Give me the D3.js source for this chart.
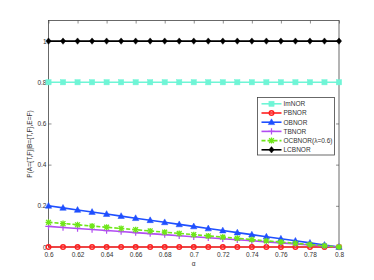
<!DOCTYPE html>
<html>
<head>
<meta charset="utf-8">
<script src="https://cdn.jsdelivr.net/npm/d3@7"></script>
<style>
  body { margin: 0; background: #fff; }
  svg { display: block; font-family: "Liberation Sans", Arial, sans-serif; }
</style>
</head>
<body>
<svg width="374" height="280"></svg>
<script>
(function(d3) {
    "use strict";

    // alpha values
    var alpha = [0.60, 0.61, 0.62, 0.63, 0.64, 0.65, 0.66, 0.67, 0.68, 0.69, 0.70,
                 0.71, 0.72, 0.73, 0.74, 0.75, 0.76, 0.77, 0.78, 0.79, 0.80];

    var imnor = [0.8, 0.8, 0.8, 0.8, 0.8, 0.8, 0.8, 0.8, 0.8, 0.8, 0.8,
                 0.8, 0.8, 0.8, 0.8, 0.8, 0.8, 0.8, 0.8, 0.8, 0.8];
    var pbnor = [0, 0, 0, 0, 0, 0, 0, 0, 0, 0, 0,
                 0, 0, 0, 0, 0, 0, 0, 0, 0, 0];
    var obnor = [0.20, 0.19, 0.18, 0.17, 0.16, 0.15, 0.14, 0.13, 0.12, 0.11, 0.10,
                 0.09, 0.08, 0.07, 0.06, 0.05, 0.04, 0.03, 0.02, 0.01, 0];
    var tbnor = [0.100, 0.095, 0.090, 0.085, 0.080, 0.075, 0.070, 0.065, 0.060, 0.055, 0.050,
                 0.045, 0.040, 0.035, 0.030, 0.025, 0.020, 0.015, 0.010, 0.005, 0];
    var ocbnor = [0.120, 0.114, 0.108, 0.102, 0.096, 0.090, 0.084, 0.078, 0.072, 0.066, 0.060,
                  0.054, 0.048, 0.042, 0.036, 0.030, 0.024, 0.018, 0.012, 0.006, 0];
    var lcbnor = [1, 1, 1, 1, 1, 1, 1, 1, 1, 1, 1,
                  1, 1, 1, 1, 1, 1, 1, 1, 1, 1];

    var xTicks = [0.6, 0.62, 0.64, 0.66, 0.68, 0.7, 0.72, 0.74, 0.76, 0.78, 0.8];
    var xTickLabels = ["0.6", "0.62", "0.64", "0.66", "0.68", "0.7", "0.72", "0.74", "0.76", "0.78", "0.8"];
    var yTicks = [0, 0.2, 0.4, 0.6, 0.8, 1];
    var yTickLabels = ["0", "0.2", "0.4", "0.6", "0.8", "1"];

    var series = [
        {name: "ImNOR", values: imnor, color: "#6ff5d6", marker: "square", dash: null},
        {name: "PBNOR", values: pbnor, color: "#ff2020", marker: "circle", dash: null},
        {name: "OBNOR", values: obnor, color: "#1f4fff", marker: "triangle", dash: null},
        {name: "TBNOR", values: tbnor, color: "#b24df2", marker: "plus", dash: null},
        {name: "OCBNOR(\u03bb=0.6)", values: ocbnor, color: "#6fe619", marker: "star", dash: "4,2"},
        {name: "LCBNOR", values: lcbnor, color: "#000000", marker: "diamond", dash: null}
    ];

    var svg = d3.select("svg"),
        margin = {left: 48.5, right: 35, top: 20.5, bottom: 33},
        width = 374 - margin.left - margin.right,
        height = 280 - margin.top - margin.bottom,
        axisColor = "#444";

    var x = d3.scaleLinear().domain([0.6, 0.8]).range([0, width]),
        y = d3.scaleLinear().domain([0, 1.1]).range([height, 0]);

    var g = svg.append("g").attr("transform", "translate(" + margin.left + "," + margin.top + ")");

    // frame
    g.append("rect").attr("width", width).attr("height", height)
        .attr("fill", "none").attr("stroke", axisColor).attr("stroke-width", 0.8);

    var tickLen = 3;

    // x axis: bottom and top ticks, inward
    var xb = g.append("g").attr("transform", "translate(0," + height + ")")
        .call(d3.axisBottom(x).tickValues(xTicks).tickSize(-tickLen).tickPadding(5)
            .tickFormat(function(d, i) { return xTickLabels[i]; }));
    g.append("g").call(d3.axisTop(x).tickValues(xTicks).tickSize(-tickLen).tickFormat(""));

    var yl = g.append("g")
        .call(d3.axisLeft(y).tickValues(yTicks).tickSize(-tickLen).tickPadding(2)
            .tickFormat(function(d, i) { return yTickLabels[i]; }));
    g.append("g").attr("transform", "translate(" + width + ",0)")
        .call(d3.axisRight(y).tickValues(yTicks).tickSize(-tickLen).tickFormat(""));

    g.selectAll(".domain").remove();
    g.selectAll(".tick line").attr("stroke", axisColor).attr("stroke-width", 0.6);
    g.selectAll(".tick text").attr("fill", "#333").attr("font-size", 6.5)
        .attr("font-family", "Liberation Sans, Arial, sans-serif");

    // axis labels
    svg.append("text").attr("x", margin.left + x(0.7)).attr("y", 266)
        .attr("text-anchor", "middle").attr("font-size", 6.5).attr("fill", "#333").text("\u03b1");
    svg.append("text")
        .attr("transform", "translate(32," + (margin.top + y(0.5)) + ") rotate(-90)")
        .attr("text-anchor", "middle").attr("font-size", 6.5).attr("fill", "#333")
        .text("P(A={T,F}|B={T,F},E=F)");

    var line = d3.line()
        .x(function(d, i) { return x(alpha[i]); })
        .y(function(d) { return y(d); });

    function drawMarker(sel, type, color, cx, cy) {
        var s = 2.6;
        if (type === "square") {
            sel.append("rect").attr("x", cx - s).attr("y", cy - s).attr("width", 2 * s).attr("height", 2 * s)
                .attr("fill", color).attr("stroke", color).attr("stroke-width", 0.5);
        } else if (type === "circle") {
            sel.append("circle").attr("cx", cx).attr("cy", cy).attr("r", 2.3)
                .attr("fill", "none").attr("stroke", color).attr("stroke-width", 1.4);
        } else if (type === "triangle") {
            sel.append("path").attr("d", "M" + cx + "," + (cy - 3.4) + "L" + (cx + 3.2) + "," + (cy + 2.4) +
                "L" + (cx - 3.2) + "," + (cy + 2.4) + "Z").attr("fill", color).attr("stroke", color).attr("stroke-width", 0.5);
        } else if (type === "plus") {
            sel.append("path").attr("d", "M" + (cx - 3.2) + "," + cy + "H" + (cx + 3.2) +
                "M" + cx + "," + (cy - 3.2) + "V" + (cy + 3.2))
                .attr("stroke", color).attr("stroke-width", 1.2).attr("fill", "none");
        } else if (type === "star") {
            sel.append("path").attr("d", "M" + (cx - 3) + "," + cy + "H" + (cx + 3) +
                "M" + cx + "," + (cy - 3) + "V" + (cy + 3) +
                "M" + (cx - 2.4) + "," + (cy - 2.4) + "L" + (cx + 2.4) + "," + (cy + 2.4) +
                "M" + (cx - 2.4) + "," + (cy + 2.4) + "L" + (cx + 2.4) + "," + (cy - 2.4))
                .attr("stroke", color).attr("stroke-width", 1.3).attr("fill", "none");
        } else if (type === "diamond") {
            sel.append("path").attr("d", "M" + cx + "," + (cy - 3.2) + "L" + (cx + 2.6) + "," + cy +
                "L" + cx + "," + (cy + 3.2) + "L" + (cx - 2.6) + "," + cy + "Z")
                .attr("fill", color).attr("stroke", color).attr("stroke-width", 0.5);
        }
    }

    // draw order: matches legend order
    series.forEach(function(s) {
        var sg = g.append("g");
        sg.append("path").datum(s.values).attr("d", line)
            .attr("fill", "none").attr("stroke", s.color).attr("stroke-width", 1.6)
            .attr("stroke-dasharray", s.dash);
        s.values.forEach(function(v, i) {
            drawMarker(sg, s.marker, s.color, x(alpha[i]), y(v));
        });
    });

    // legend
    var lg = svg.append("g").attr("transform", "translate(257.5,97.5)");
    lg.append("rect").attr("width", 77).attr("height", 57.5)
        .attr("fill", "#fff").attr("stroke", "#444").attr("stroke-width", 0.8);
    series.forEach(function(s, i) {
        var yy = 6.3 + i * 9.2;
        var row = lg.append("g");
        row.append("line").attr("x1", 4).attr("x2", 24).attr("y1", yy).attr("y2", yy)
            .attr("stroke", s.color).attr("stroke-width", 1.6).attr("stroke-dasharray", s.dash);
        drawMarker(row, s.marker, s.color, 14, yy);
        row.append("text").attr("x", 26).attr("y", yy + 2.3).attr("font-size", 6.5)
            .attr("fill", "#333").text(s.name);
    });

}(d3));
</script>
</body>
</html>
